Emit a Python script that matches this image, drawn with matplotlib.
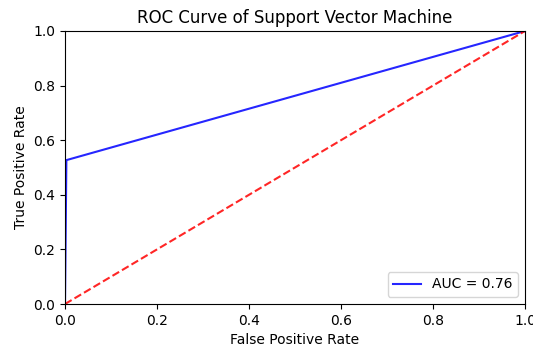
import numpy as np
import matplotlib
matplotlib.use('Agg')
import matplotlib.pyplot as plt

# ROC points
fpr = [0.0, 0.003, 1.0]
tpr = [0.0, 0.527, 1.0]
roc_auc = 0.76

fig = plt.figure(figsize=(5.33, 3.47), dpi=100)
ax = fig.add_axes([65/533., 1-304/347., 460/533., 273/347.])
ax.set_title('ROC Curve of Support Vector Machine')
ax.plot(fpr, tpr, 'b', alpha=0.85, label='AUC = %0.2f' % roc_auc)
ax.legend(loc='lower right')
ax.plot([0, 1], [0, 1], 'r--', alpha=0.85)
ax.set_xlim([0, 1])
ax.set_ylim([0, 1])
ax.set_ylabel('True Positive Rate')
ax.set_xlabel('False Positive Rate')

plt.savefig('out.png', dpi=100)
